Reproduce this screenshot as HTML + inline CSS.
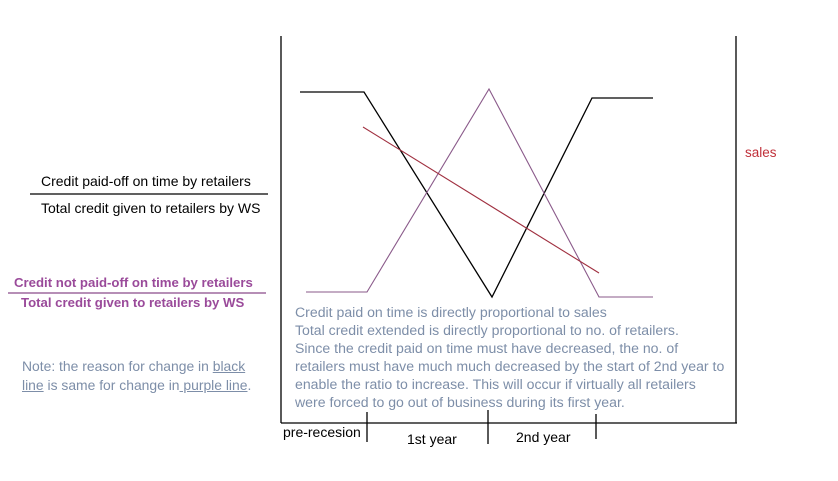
<!DOCTYPE html>
<html><head><meta charset="utf-8"><style>
body{margin:0;width:838px;height:481px;background:#fff;overflow:hidden;position:relative;font-family:"Liberation Sans",sans-serif}
.t{position:absolute;white-space:nowrap;font-size:14px}
</style></head><body>
<svg width="838" height="481" style="position:absolute;left:0;top:0">
<g stroke="#000" stroke-width="1.3" fill="none">
<line x1="281" y1="36" x2="281" y2="423"/>
<line x1="281" y1="423" x2="737" y2="423"/>
<line x1="736" y1="36" x2="736" y2="423"/>
<line x1="367" y1="412" x2="367" y2="442"/>
<line x1="488" y1="410" x2="488" y2="444"/>
<line x1="596" y1="414" x2="596" y2="439"/>
<line x1="30" y1="194" x2="268" y2="194"/>
<polyline points="300,92 364,92 492,297 592,98 653,98"/>
</g>
<line x1="8" y1="293" x2="266" y2="293" stroke="#8a4a8a" stroke-width="1.2"/>
<polyline points="306,292 367,292 489,89 599,297 653,297" fill="none" stroke="#8a5a8a" stroke-width="1.1"/>
<line x1="363" y1="127" x2="599" y2="273" stroke="#a03040" stroke-width="1.1"/>
</svg>
<div class="t" style="left:41px;top:173px;">Credit paid-off on time by retailers</div>
<div class="t" style="left:41px;top:200px;">Total credit given to retailers by WS</div>
<div class="t" style="left:14px;top:275px;color:#9a4a9a;font-weight:bold;font-size:13.2px">Credit not paid-off on time by retailers</div>
<div class="t" style="left:21px;top:295px;color:#9a4a9a;font-weight:bold;font-size:13.2px">Total credit given to retailers by WS</div>
<div class="t" style="left:22px;top:357px;color:#7d8ea8;line-height:19px;font-size:13.9px">Note: the reason for change in <u>black</u><br><u>line</u> is same for change in<u> purple line</u>.</div>
<div class="t" style="left:745px;top:145px;color:#c0303a;font-size:13.5px">sales</div>
<div class="t" style="left:295px;top:303px;color:#7d8ea8;line-height:18px;font-size:14.1px">Credit paid on time is directly proportional to sales<br>Total credit extended is directly proportional to no. of retailers.<br>Since the credit paid on time must have decreased, the no. of<br>retailers must have much much decreased by the start of 2nd year to<br>enable the ratio to increase. This will occur if virtually all retailers<br>were forced to go out of business during its first year.</div>
<div class="t" style="left:283px;top:424px;">pre-recesion</div>
<div class="t" style="left:407px;top:431px;">1st year</div>
<div class="t" style="left:516px;top:429px;">2nd year</div>
</body></html>
